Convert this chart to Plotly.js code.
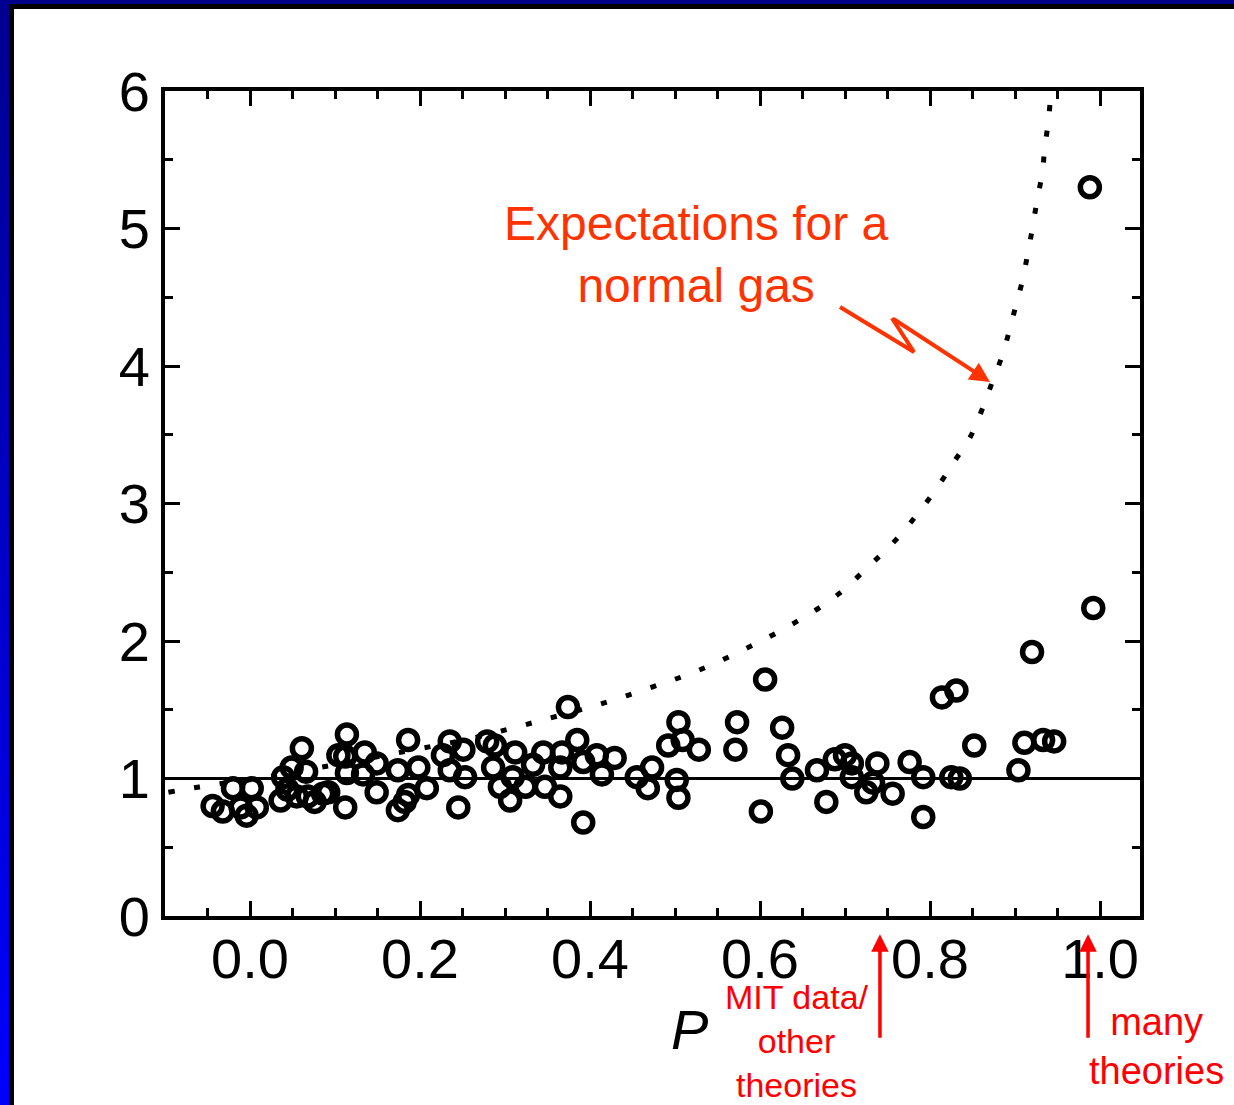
<!DOCTYPE html>
<html>
<head>
<meta charset="utf-8">
<script src="https://cdn.plot.ly/plotly-3.0.1.min.js"></script>
<style>
  html, body { margin: 0; padding: 0; background: #ffffff; }
  #wrap { position: relative; width: 1234px; height: 1105px; overflow: hidden; }
  #chart { position: absolute; left: 0; top: 0; width: 1234px; height: 1105px; }
  .bd { position: absolute; z-index: 10; }
</style>
</head>
<body>
<div id="wrap">
  <div id="chart"></div>
  <div class="bd" style="left:0;top:0;width:1234px;height:4px;background:#00008a;"></div>
  <div class="bd" style="left:9px;top:4px;width:1225px;height:5px;background:#000000;"></div>
  <div class="bd" style="left:0;top:0;width:9px;height:1105px;background:linear-gradient(#000090,#0000ff);"></div>
  <div class="bd" style="left:9px;top:4px;width:5px;height:1101px;background:#000000;"></div>
</div>
<script>
// Measured data points (P, ratio)
const pointsX = [-0.044,-0.032,-0.020,-0.011,-0.004,0.002,0.008,0.039,0.036,0.044,0.049,0.055,0.061,0.066,0.068,0.076,0.086,0.092,0.104,
  0.114,0.112,0.135,0.114,0.133,0.149,0.149,0.112,0.174,0.186,0.186,0.174,0.182,0.198,0.208,0.227,0.235,0.235,0.251,0.253,0.245,
  0.279,0.288,0.286,0.294,0.312,0.309,0.306,0.324,0.333,0.345,0.347,0.367,0.365,0.365,0.374,0.385,0.392,0.408,0.414,0.429,0.392,
  0.455,0.473,0.468,0.492,0.504,0.509,0.528,0.502,0.504,0.573,0.571,0.606,0.601,0.626,0.633,0.638,0.667,0.678,0.688,0.700,0.708,
  0.708,0.725,0.733,0.738,0.756,0.776,0.792,0.792,0.814,0.831,0.825,0.835,0.852,0.904,0.911,0.920,0.933,0.946,0.992,0.988];
const pointsY = [0.80,0.76,0.93,0.79,0.73,0.93,0.79,1.01,0.84,0.92,1.08,0.87,1.22,1.05,0.87,0.83,0.89,0.90,1.17,
  1.32,1.16,1.19,1.04,1.03,1.11,0.90,0.79,1.06,1.28,0.88,0.77,0.83,1.08,0.93,1.17,1.27,1.06,1.21,1.01,0.79,
  1.27,1.24,1.08,0.94,1.19,1.01,0.84,0.94,1.10,1.19,0.94,1.19,1.08,0.87,1.52,1.28,1.12,1.17,1.03,1.15,0.68,
  1.01,1.08,0.93,1.24,1.41,1.28,1.21,0.99,0.86,1.41,1.21,1.72,0.76,1.37,1.17,1.00,1.06,0.83,1.14,1.17,1.11,
  1.01,0.90,0.97,1.11,0.89,1.12,1.01,0.72,1.59,1.64,1.01,1.00,1.24,1.06,1.26,1.92,1.28,1.27,2.24,5.30];

// Dotted "normal gas" expectation curve
const curveX = [-0.096,-0.068,-0.038,0.02,0.082,0.168,0.259,0.317,0.347,0.406,0.466,0.525,0.585,0.64,0.69,0.729,0.759,0.786,0.81,
  0.829,0.847,0.861,0.873,0.884,0.893,0.901,0.909,0.915,0.921,0.926,0.932,0.935,0.939,0.941];
const curveY = [0.90,0.93,0.96,1.01,1.08,1.18,1.29,1.38,1.43,1.53,1.65,1.78,1.95,2.13,2.33,2.55,2.73,2.93,3.13,
  3.31,3.48,3.68,3.88,4.06,4.25,4.44,4.63,4.82,5.02,5.21,5.40,5.59,5.77,5.90];

// Reference line at 1
const refX = [-0.1, 1.047];
const refY = [1, 1];

const xTickVals = [0, 0.2, 0.4, 0.6, 0.8, 1.0];
const xTickText = ["0.0", "0.2", "0.4", "0.6", "0.8", "1.0"];
const yTickVals = [0, 1, 2, 3, 4, 5, 6];
const yTickText = ["0", "1", "2", "3", "4", "5", "6"];

const FONT = "Liberation Sans, Arial, Helvetica, sans-serif";
const ORANGE = "#ff3300";
const RED = "#ff0000";

const traces = [
  {
    x: refX, y: refY, type: "scatter", mode: "lines",
    line: { color: "#000", width: 3 }, hoverinfo: "skip", showlegend: false
  },
  {
    x: pointsX, y: pointsY, type: "scatter", mode: "markers",
    marker: { symbol: "circle-open", size: 19, color: "#000", line: { width: 5.5, color: "#000" } },
    showlegend: false
  },
  {
    x: curveX, y: curveY, type: "scatter", mode: "lines",
    line: { color: "#000", width: 5, dash: "6px,20px", shape: "spline" },
    hoverinfo: "skip", showlegend: false
  }
];

const axisCommon = {
  showgrid: false, zeroline: false,
  showline: true, linecolor: "#000", linewidth: 4, mirror: "ticks",
  ticks: "inside", ticklen: 15, tickwidth: 3, tickcolor: "#000",
  tickfont: { family: FONT, size: 56, color: "#000" }
};

const layout = {
  width: 1234, height: 1105,
  margin: { l: 165, r: 94, t: 91, b: 189, pad: 0 },
  paper_bgcolor: "#ffffff", plot_bgcolor: "#ffffff",
  showlegend: false,
  xaxis: Object.assign({}, axisCommon, {
    range: [-0.1, 1.047],
    tickmode: "array", tickvals: xTickVals, ticktext: xTickText,
    ticklabelstandoff: -9,
    minor: { dtick: 0.05, tick0: 0, ticks: "inside", ticklen: 8, tickwidth: 3, tickcolor: "#000" }
  }),
  yaxis: Object.assign({}, axisCommon, {
    range: [0, 6],
    tickmode: "array", tickvals: yTickVals, ticktext: yTickText,
    ticklabelstandoff: 0,
    minor: { dtick: 0.5, tick0: 0, ticks: "inside", ticklen: 8, tickwidth: 3, tickcolor: "#000" }
  }),
  shapes: [
    {
      type: "path", xref: "paper", yref: "paper",
      path: "M 0.6923 0.7382 L 0.7682 0.6836 L 0.7456 0.7248",
      line: { color: ORANGE, width: 4 }
    }
  ],
  annotations: [
    {
      xref: "paper", yref: "paper", x: 0.5456, y: 0.8024, xanchor: "center", yanchor: "middle",
      text: "Expectations for a<br>normal gas", showarrow: false, align: "center",
      font: { family: FONT, size: 48, color: ORANGE }
    },
    {
      xref: "paper", yref: "paper", x: 0.8462, y: 0.6473, text: "",
      showarrow: true, axref: "pixel", ayref: "pixel", ax: -98, ay: -64,
      arrowcolor: ORANGE, arrowwidth: 4, arrowhead: 2, arrowsize: 1
    },
    {
      xref: "paper", yref: "paper", x: 0.538, y: -0.138, xanchor: "center", yanchor: "middle",
      text: "<i>P</i>", showarrow: false,
      font: { family: FONT, size: 56, color: "#000" }
    },
    {
      xref: "paper", yref: "paper", x: 0.648, y: -0.1515, xanchor: "center", yanchor: "middle",
      text: "MIT data/<br>other<br>theories", showarrow: false, align: "center",
      font: { family: FONT, size: 34, color: RED }
    },
    {
      xref: "paper", yref: "paper", x: 1.0174, y: -0.158, xanchor: "center", yanchor: "middle",
      text: "many<br>theories", showarrow: false, align: "center",
      font: { family: FONT, size: 38, color: RED }
    },
    {
      xref: "paper", yref: "paper", x: 0.7333, y: -0.022, text: "",
      showarrow: true, axref: "pixel", ayref: "pixel", ax: 0, ay: 105,
      arrowcolor: RED, arrowwidth: 3.5, arrowhead: 2, arrowsize: 1
    },
    {
      xref: "paper", yref: "paper", x: 0.9467, y: -0.022, text: "",
      showarrow: true, axref: "pixel", ayref: "pixel", ax: 0, ay: 105,
      arrowcolor: RED, arrowwidth: 3.5, arrowhead: 2, arrowsize: 1
    }
  ]
};

Plotly.newPlot("chart", traces, layout, { displayModeBar: false, staticPlot: true });
</script>
</body>
</html>
